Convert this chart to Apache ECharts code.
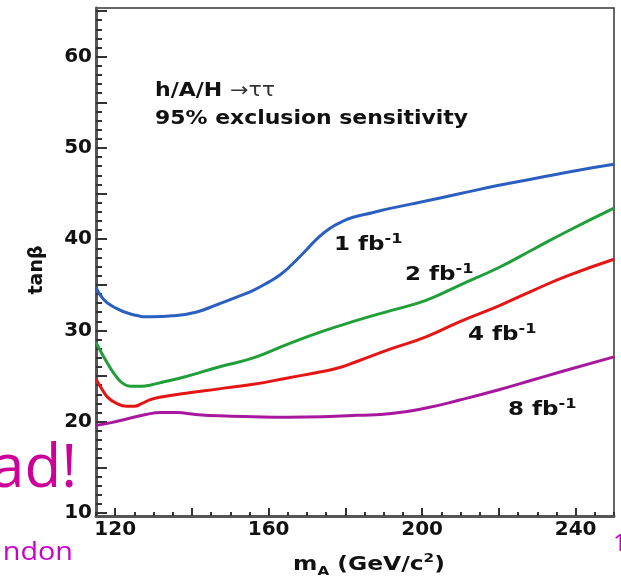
<!DOCTYPE html>
<html>
<head>
<meta charset="utf-8">
<script src="https://cdn.jsdelivr.net/npm/echarts@6/dist/echarts.min.js"></script>
<style>
html,body{margin:0;padding:0;background:#fff;}
#c{width:621px;height:577px;}
</style>
</head>
<body>
<div id="c"></div>
<script>
// ---- data ----
const mA_1fb   = [115,117,119.5,124,129.5,135,141,147,152,156,160,163,166,170,173,176,179,182,187,192,200,210,220,230,240,250];
const tanb_1fb = [34.7,33.4,32.6,31.8,31.5,31.6,32.0,32.9,33.7,34.4,35.3,36.1,37.2,38.9,40.2,41.2,41.9,42.4,42.9,43.4,44.1,45.0,45.9,46.7,47.5,48.2];

const mA_2fb   = [115,116.5,118,120,122,124,127,129,133,138,147,156,165,174,183,192,201,210,220,229,238,250];
const tanb_2fb = [28.7,27.5,26.4,25.1,24.2,23.9,23.9,24.0,24.4,24.9,26.0,27.0,28.5,29.9,31.1,32.2,33.3,35.0,36.9,38.9,40.9,43.4];

const mA_4fb   = [115,116.5,118,120,123,125,127,129,132,138,147,156,165,174,179,183,192,201,210,220,229,238,250];
const tanb_4fb = [24.7,23.6,22.7,22.1,21.7,21.7,22.0,22.4,22.7,23.1,23.6,24.1,24.8,25.5,26.0,26.6,28.0,29.3,31.0,32.7,34.4,36.0,37.8];

const mA_8fb   = [115,119,124,128,132,136,141,147,156,165,174,183,192,201,210,220,229,238,250];
const tanb_8fb = [19.6,19.9,20.4,20.8,21.0,21.0,20.8,20.65,20.55,20.5,20.55,20.7,20.9,21.5,22.4,23.5,24.6,25.7,27.1];

const seriesNames = ['1 fb-1','2 fb-1','4 fb-1','8 fb-1'];
const seriesColors = ['#2a5fc0','#1f9e3a','#e51515','#a8189e'];

// tick labels / tick positions
const xLabels = [120,160,200,240];
const xMajorTicks = [120,140,160,180,200,220,240];
const yLabels = [10,20,30,40,50,60];
const yMajorTicks = [10,15,20,25,30,35,40,45,50,55,60,65];
const xMinorTicks = []; for (let v = 115; v <= 250; v += 5) xMinorTicks.push(v);
const yMinorTicks = []; for (let v = 10; v <= 65; v += 1) yMinorTicks.push(v);

const FF = '"DejaVu Sans", sans-serif';

function pairs(xs, ys){ return xs.map((x,i)=>[x, ys[i]]); }
const allData = [pairs(mA_1fb,tanb_1fb), pairs(mA_2fb,tanb_2fb), pairs(mA_4fb,tanb_4fb), pairs(mA_8fb,tanb_8fb)];

const chart = echarts.init(document.getElementById('c'), null, {renderer:'canvas'});

const xRange = {min:115, max:250};
const yRange = {min:9.67, max:65.33};

function curveLabel(x, y, txt){
  return {
    type:'text', x:x, y:y, scaleX:1.15, z:100,
    style:{
      text:'{m|' + txt + '}{s|-1}',
      align:'left', verticalAlign:'top',
      rich:{
        m:{fontSize:20, fontWeight:'bold', fontFamily:FF, fill:'#111', lineHeight:24},
        s:{fontSize:14, fontWeight:'bold', fontFamily:FF, fill:'#111', lineHeight:14, verticalAlign:'top'}
      }
    }
  };
}

const option = {
  animation:false,
  backgroundColor:'#ffffff',
  grid:{left:96, right:7, top:8, bottom:61, show:true, borderColor:'#333', borderWidth:1.5, backgroundColor:'transparent'},
  xAxis:[{
    type:'value', min:xRange.min, max:xRange.max,
    axisLine:{show:true, lineStyle:{color:'#555', width:3}},
    axisTick:{show:true, inside:true, length:8, customValues:xMajorTicks, lineStyle:{color:'#333', width:2}},
    axisLabel:{customValues:xLabels, fontSize:20, fontWeight:'bold', fontFamily:FF, color:'#111', margin:4},
    splitLine:{show:false}
  },{
    type:'value', min:xRange.min, max:xRange.max, position:'bottom',
    axisLine:{show:false},
    axisTick:{show:true, inside:true, length:4, customValues:xMinorTicks, lineStyle:{color:'#333', width:2}},
    axisLabel:{show:false},
    splitLine:{show:false}
  }],
  yAxis:[{
    type:'value', min:yRange.min, max:yRange.max,
    axisLine:{show:true, lineStyle:{color:'#555', width:3}},
    axisTick:{show:true, inside:true, length:11, customValues:yMajorTicks, lineStyle:{color:'#333', width:2}},
    axisLabel:{customValues:yLabels, fontSize:20, fontWeight:'bold', fontFamily:FF, color:'#111', margin:4},
    splitLine:{show:false}
  },{
    type:'value', min:yRange.min, max:yRange.max, position:'left',
    axisLine:{show:false},
    axisTick:{show:true, inside:true, length:6, customValues:yMinorTicks, lineStyle:{color:'#333', width:2}},
    axisLabel:{show:false},
    splitLine:{show:false}
  }],
  series: allData.map((d,i)=>({
    type:'line', name:seriesNames[i], data:d, xAxisIndex:0, yAxisIndex:0,
    showSymbol:false, smooth:0.5,
    lineStyle:{color:seriesColors[i], width:3},
    itemStyle:{color:seriesColors[i]}, z:5
  })),
  graphic:[
    {type:'text', x:155, y:82, scaleX:1.16, style:{text:'{b|h/A/H }{s|→ττ}', align:'left', verticalAlign:'top',
      rich:{b:{fontSize:19, fontWeight:'bold', fontFamily:FF, fill:'#111'}, s:{fontSize:19, fontFamily:FF, fill:'#333'}}}},
    {type:'text', x:155, y:110, scaleX:1.155, style:{text:'95% exclusion sensitivity', align:'left', verticalAlign:'top',
      fontSize:19, fontWeight:'bold', fontFamily:FF, fill:'#111'}},
    curveLabel(334, 232.6, '1 fb'),
    curveLabel(405, 262.6, '2 fb'),
    curveLabel(468, 322.6, '4 fb'),
    curveLabel(508, 397.6, '8 fb'),
    {type:'text', x:37, y:270, rotation:Math.PI/2, style:{text:'tanβ', align:'center', verticalAlign:'middle',
      fontSize:19, fontWeight:'bold', fontFamily:FF, fill:'#111'}},
    {type:'text', x:293, y:552, scaleX:1.17, style:{text:'{m|m}{a|A}{t| (GeV/c}{p|2}{t|)}', align:'left', verticalAlign:'top',
      rich:{
        m:{fontSize:20, fontWeight:'bold', fontFamily:FF, fill:'#111', lineHeight:26},
        a:{fontSize:13, fontWeight:'bold', fontFamily:FF, fill:'#111', lineHeight:13, verticalAlign:'bottom'},
        t:{fontSize:20, fontWeight:'bold', fontFamily:FF, fill:'#111', lineHeight:26},
        p:{fontSize:13, fontWeight:'bold', fontFamily:FF, fill:'#111', lineHeight:13, verticalAlign:'top'}
      }}},
    {type:'text', x:77, y:470, style:{text:'ad!', align:'right', verticalAlign:'middle',
      fontSize:60, fontFamily:'"Open Sans", sans-serif', fill:'#cc0099'}},
    {type:'text', x:73, y:553, scaleX:1.15, style:{text:'ndon', align:'right', verticalAlign:'middle',
      fontSize:25, fontFamily:'"Open Sans", sans-serif', fill:'#cc00cc'}},
    {type:'text', x:613, y:532, style:{text:'1', align:'left', verticalAlign:'top',
      fontSize:24, fontFamily:'"Open Sans", sans-serif', fill:'#cc00cc'}}
  ]
};
chart.setOption(option);
</script>
</body>
</html>
